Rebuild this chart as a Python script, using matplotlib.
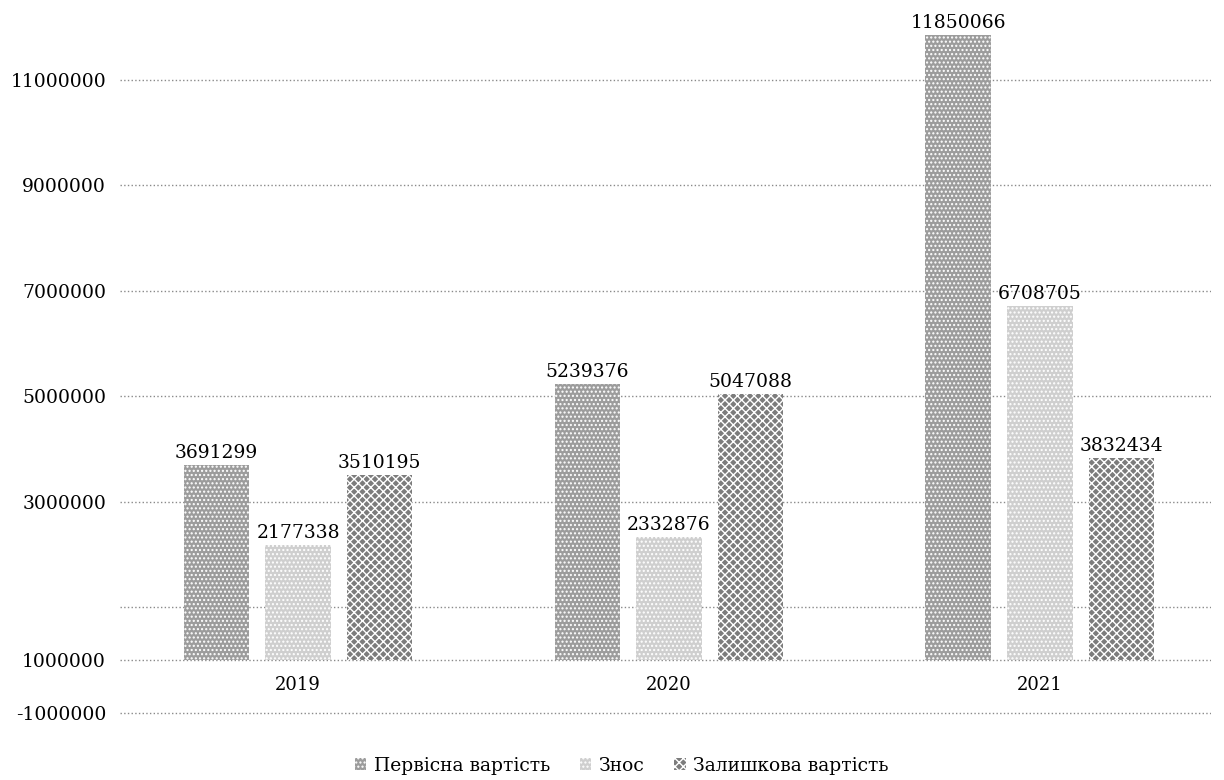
import matplotlib.pyplot as plt
import numpy as np

years = ["2019", "2020", "2021"]
series_names = ["Первісна вартість", "Знос", "Залишкова вартість"]
pervisna = [3691299, 5239376, 11850066]
znos = [2177338, 2332876, 6708705]
zalyshkova = [3510195, 5047088, 3832434]

# tick positions and the labels as printed on the scan
ytick_pos = [-1000000, 0, 1000000, 3000000, 5000000, 7000000, 9000000, 11000000]
ytick_labels = ["-1000000", "1000000", "", "3000000", "5000000", "7000000", "9000000", "11000000"]

plt.rcParams['font.family'] = ['DejaVu Serif']
plt.rcParams['hatch.linewidth'] = 1.0

fig = plt.figure(figsize=(12.24, 7.8), dpi=100)
ax = fig.add_axes([0.098, 0.073, 0.891, 0.926])

colors = ['#9c9c9c', '#cfcfcf', '#7c7c7c']
hatches = ['....', '....', 'xxxx']
x = np.arange(len(years))
width = 0.177
offsets = [-0.22, 0, 0.22]

for vals, name, col, off, h in zip([pervisna, znos, zalyshkova], series_names, colors, offsets, hatches):
    bars = ax.bar(x + off, vals, width, color=col, edgecolor='white', linewidth=0,
                  hatch=h, label=name, zorder=2)
    for b, v in zip(bars, vals):
        ax.annotate(str(v), (b.get_x() + b.get_width() / 2, v), xytext=(0, 2),
                    textcoords='offset points', ha='center', va='bottom', fontsize=13.5)

for i, y in enumerate(years):
    ax.annotate(y, (i, 0), xytext=(0, -12), textcoords='offset points',
                ha='center', va='top', fontsize=13)

ax.set_xlim(-0.48, 2.46)
ax.set_ylim(-1200000, 12500000)
ax.set_yticks(ytick_pos)
ax.set_yticklabels(ytick_labels, fontsize=13.5)
ax.set_xticks([])
ax.tick_params(axis='y', length=0, pad=10)
ax.grid(axis='y', linestyle=':', color='#8a8a8a', linewidth=1, zorder=0)
for s in ax.spines.values():
    s.set_visible(False)

fig.legend(loc='lower center', bbox_to_anchor=(0.508, -0.015), ncol=3, frameon=False,
           fontsize=13.5, handlelength=0.6, handleheight=0.6, columnspacing=1.6, handletextpad=0.4)

fig.savefig('out.png', dpi=100)
